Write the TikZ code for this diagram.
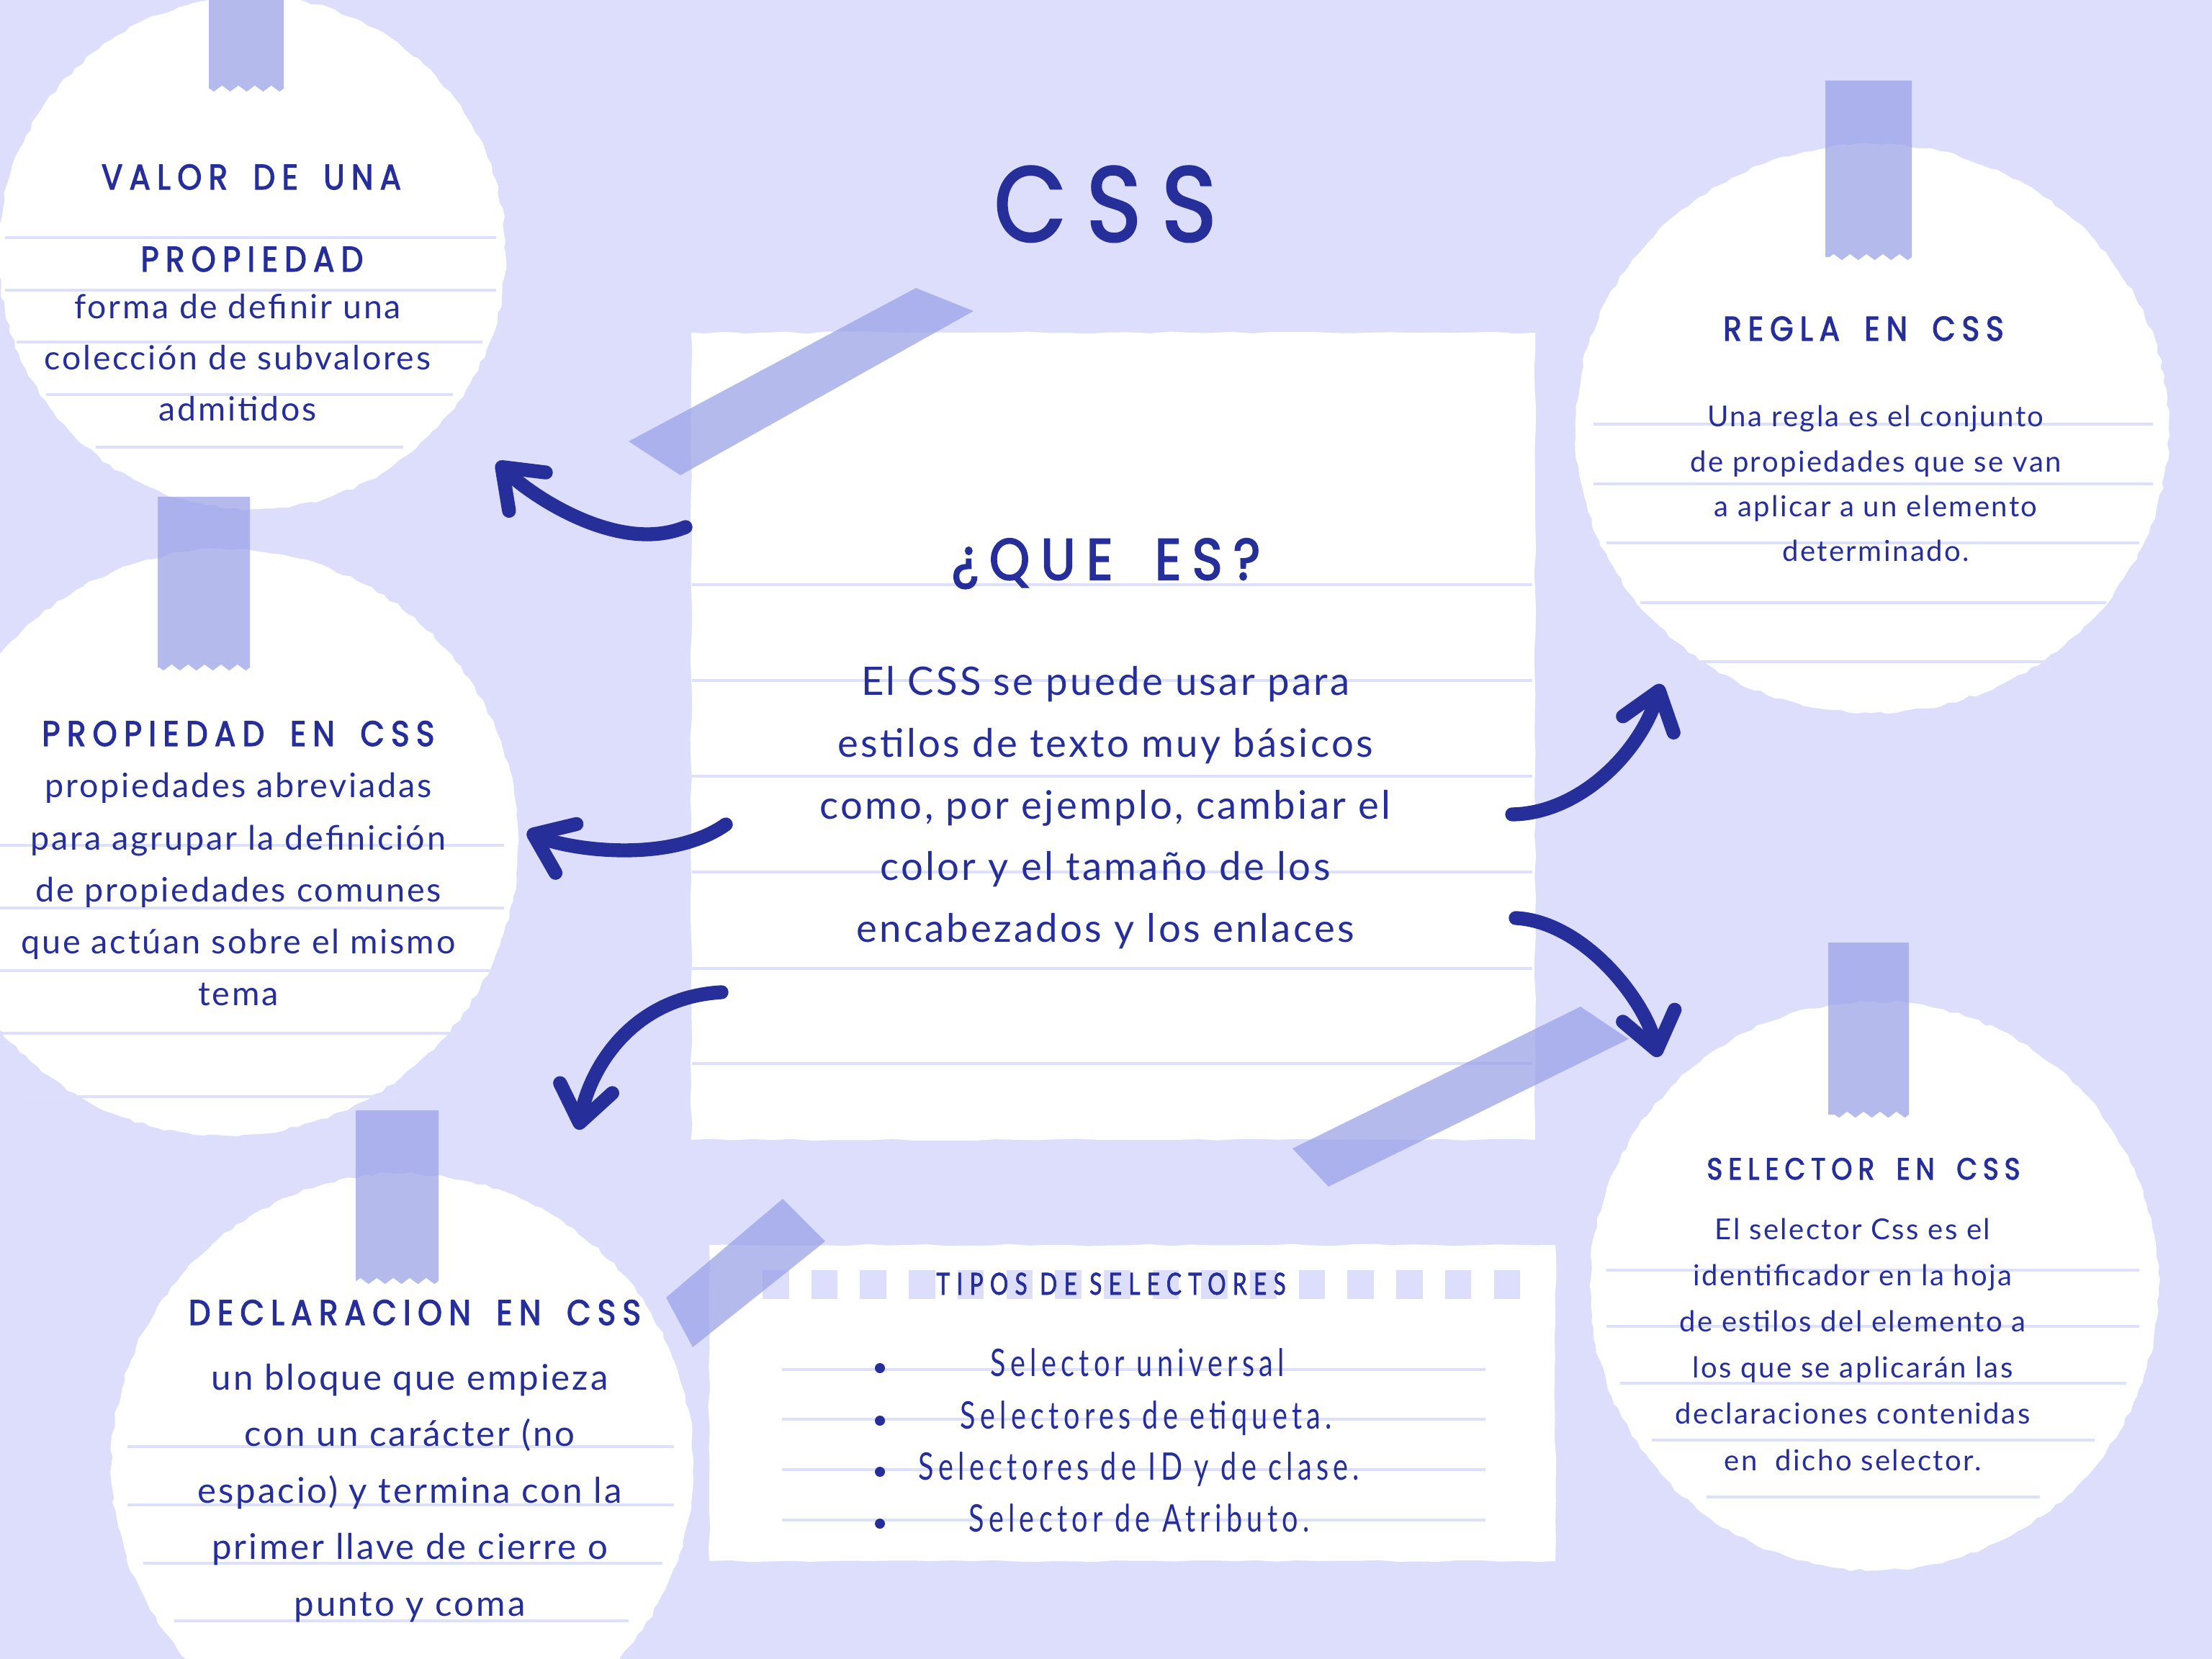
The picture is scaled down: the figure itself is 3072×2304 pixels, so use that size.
\documentclass[tikz,border=0pt]{standalone}
\usepackage{fontspec}
\setmainfont{Lato}
\newfontfamily\titlefont[LetterSpace=19,FakeStretch=0.88,FakeBold=2]{Poppins}
\newfontfamily\headfont[LetterSpace=19,WordSpace=1.7,FakeStretch=0.88,FakeBold=2.5]{Poppins}
\newfontfamily\handfont[LetterSpace=6]{Lato}
\newfontfamily\narrowfont[LetterSpace=12,FakeStretch=0.75]{Lato}
\newfontfamily\narrowcaps[LetterSpace=22,FakeStretch=0.75,FakeBold=1.5]{Lato}
\usetikzlibrary{arrows.meta,decorations.pathmorphing}
\definecolor{lavbg}{RGB}{220,222,251}
\definecolor{inkblue}{RGB}{38,47,153}
\definecolor{tapeblue}{RGB}{150,158,230}
\definecolor{ruleline}{RGB}{221,224,250}
\tikzset{
  paper/.style={fill=white, decorate, decoration={random steps, segment length=3pt, amplitude=0.6pt}},
  note/.style={fill=white, decorate, decoration={random steps, segment length=8pt, amplitude=0.4pt}},
  tape/.style={fill=tapeblue, fill opacity=0.7},
  rule/.style={draw=ruleline, line width=1pt},
  txt/.style={text=inkblue, inner sep=0pt, anchor=base},
  curvy/.style={draw=inkblue, line width=5.5pt, line cap=round,
    -{Straight Barb[length=14pt,width=21pt,round]}},
}
\newcommand{\vtape}[4]{%
  \fill[tape] (#1,#2) -- (#3,#2) -- (#3,#4)
    decorate[decoration={zigzag, segment length=6.5pt, amplitude=1.2pt}] {-- (#1,#4)} -- cycle;}

\begin{document}
\begin{tikzpicture}[x=0.01cm, y=-0.01cm]
	\useasboundingbox (0,0) rectangle (3072,2304);
	\clip (0,0) rectangle (3072,2304);
	\fill[lavbg] (0,0) rectangle (3072,2304);

	% papers
	\pgfmathsetseed{12}
	\fill[paper] (350,351) circle[x radius=352, y radius=356];
	\fill[paper] (313,1170) circle[radius=407];
	\fill[paper] (559,2034) circle[radius=404];
	\fill[paper] (2600,595) circle[x radius=412, y radius=395];
	\fill[paper] (2603,1786) circle[radius=395];
	\fill[note] (960,462) rectangle (2132,1583);
	\fill[note] (985,1729) rectangle (2160,2168);

	% ruled lines
	\foreach \y/\a/\b in {330/7/689, 403/7/689, 475/23/670, 548/64/629, 621/133/560,
		1174/0/700, 1261/0/700, 1348/0/680, 1435/0/629, 1523/32/546,
		2009/177/936, 2090/177/936, 2171/199/920, 2251/242/873,
		589/2213/2990, 672/2213/2990, 754/2231/2971, 837/2278/2925, 919/2356/2846,
		1764/2231/2971, 1842/2231/2971, 1921/2250/2953, 2000/2294/2909, 2079/2370/2833}{
		\draw[rule] (\a,\y) -- (\b,\y);
	}
	\foreach \y in {812,945,1078,1211,1345,1477}{
		\draw[rule] (961,\y) -- (2128,\y);
	}
	\foreach \y in {1902,1971,2041,2111}{
		\draw[rule] (1086,\y) -- (2063,\y);
	}
	\foreach \k in {0,...,15}{
		\fill[lavbg] ({1059+\k*67.7},1764) rectangle ++(36.6,40);
	}

	% tapes
	\vtape{290}{-5}{394}{123}
	\vtape{219}{690}{347}{927}
	\vtape{494}{1542}{609}{1779}
	\vtape{2535}{112}{2655}{357}
	\vtape{2539}{1309}{2651}{1548}
	\fill[tape] (873,613) -- (1272,400) -- (1352,432) -- (945,660) -- cycle;
	\fill[tape] (1795,1595) -- (2195,1398) -- (2262,1443) -- (1845,1648) -- cycle;
	\fill[tape] (925,1802) -- (1087,1665) -- (1146,1724) -- (962,1871) -- cycle;

	% title
	\node[txt, font=\titlefont\fontsize{42}{50}\selectfont] (title) at (1535,335) {CSS};

	% centre note
	\node[txt, font=\headfont\fontsize{23}{28}\selectfont] (queHead) at (1536,805) {¿QUE ES?};
	\foreach \t [count=\i] in {El CSS se puede usar para, estilos de texto muy básicos,
		{como, por ejemplo, cambiar el}, color y el tamaño de los, encabezados y los enlaces}{
		\node[txt, font=\handfont\fontsize{15.5}{18}\selectfont] (que\i) at (1535,{966+(\i-1)*85.5}) {\t};
	}

	% valor de una propiedad
	\node[txt, font=\headfont\fontsize{14}{17}\selectfont] (valorHeadA) at (349,263) {VALOR DE UNA};
	\node[txt, font=\headfont\fontsize{14}{17}\selectfont] (valorHeadB) at (350,377) {PROPIEDAD};
	\foreach \t [count=\i] in {forma de definir una, colección de subvalores, admitidos}{
		\node[txt, font=\handfont\fontsize{13.2}{15}\selectfont] (valor\i) at (330,{443+(\i-1)*71}) {\t};
	}

	% propiedad en css
	\node[txt, font=\headfont\fontsize{14}{17}\selectfont] (propHead) at (331,1036) {PROPIEDAD EN CSS};
	\foreach \t [count=\i] in {propiedades abreviadas, para agrupar la definición,
		de propiedades comunes, que actúan sobre el mismo, tema}{
		\node[txt, font=\handfont\fontsize{13.3}{15}\selectfont] (prop\i) at (331,{1108+(\i-1)*72}) {\t};
	}

	% declaracion en css
	\node[txt, font=\headfont\fontsize{14}{17}\selectfont] (declHead) at (576,1840) {DECLARACION EN CSS};
	\foreach \t [count=\i] in {un bloque que empieza, con un carácter (no,
		espacio) y termina con la, primer llave de cierre o, punto y coma}{
		\node[txt, font=\handfont\fontsize{14}{16}\selectfont] (decl\i) at (569,{1930+(\i-1)*78.5}) {\t};
	}

	% regla en css
	\node[txt, font=\headfont\fontsize{13.5}{16}\selectfont] (reglaHead) at (2588,473) {REGLA EN CSS};
	\foreach \t [count=\i] in {Una regla es el conjunto, de propiedades que se van,
		a aplicar a un elemento, determinado.}{
		\node[txt, font=\handfont\fontsize{11.4}{13}\selectfont] (regla\i) at (2605,{593+(\i-1)*62.3}) {\t};
	}

	% selector en css
	\node[txt, font=\headfont\fontsize{12}{14}\selectfont] (selHead) at (2588,1638) {SELECTOR EN CSS};
	\foreach \t [count=\i] in {El selector Css es el, identificador en la hoja,
		de estilos del elemento a, los que se aplicarán las,
		declaraciones contenidas, en\ \ dicho selector.}{
		\node[txt, font=\handfont\fontsize{11.4}{13}\selectfont] (sel\i) at (2573,{1721+(\i-1)*64.2}) {\t};
	}

	% tipos de selectores
	\node[txt, font=\narrowcaps\fontsize{12}{14}\selectfont] (tiposHead) at (1543,1798) {TIPOS DE SELECTORES};
	\foreach \t/\x/\y [count=\i] in {Selector universal/1580/1911, Selectores de etiqueta./1592/1984,
		Selectores de ID y de clase./1582/2055, Selector de Atributo./1582/2127}{
		\fill[inkblue] (1222,\y-11) circle[radius=7];
		\node[txt, font=\narrowfont\fontsize{15}{17}\selectfont] (tipo\i) at (\x,\y) {\t};
	}

	% arrows
	\coordinate (qA) at (952,732);   \coordinate (vA) at (690,642);
	\coordinate (qB) at (1008,1145); \coordinate (pB) at (732,1155);
	\coordinate (qC) at (1002,1378); \coordinate (dC) at (803,1569);
	\coordinate (qD) at (2100,1131); \coordinate (rD) at (2307,950);
	\coordinate (qE) at (2105,1275); \coordinate (sE) at (2303,1468);
	\draw[curvy] (qA) .. controls (860,770) and (740,690) .. (vA);
	\draw[curvy] (qB) .. controls (930,1200) and (790,1180) .. (pB);
	\draw[curvy] (qC) .. controls (880,1385) and (820,1480) .. (dC);
	\draw[curvy] (qD) .. controls (2190,1130) and (2275,1050) .. (rD);
	\draw[curvy] (qE) .. controls (2200,1280) and (2285,1390) .. (sE);
\end{tikzpicture}
\end{document}
